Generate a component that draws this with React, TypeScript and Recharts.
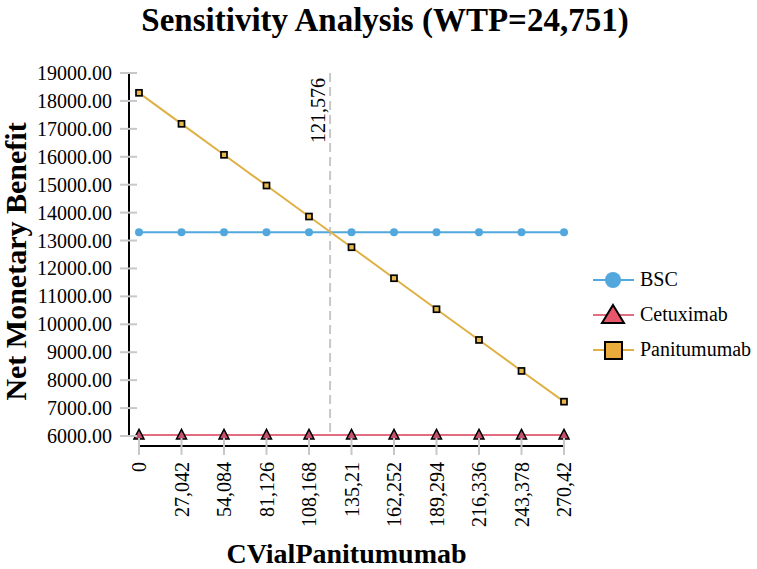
import { LineChart, Line, XAxis, YAxis, ReferenceLine } from 'recharts';

const X_VALUES = [0, 27042, 54084, 81126, 108168, 135210, 162252, 189294, 216336, 243378, 270420];
const X_LABELS = ['0', '27,042', '54,084', '81,126', '108,168', '135,21', '162,252', '189,294', '216,336', '243,378', '270,42'];
const BSC = [13300, 13300, 13300, 13300, 13300, 13300, 13300, 13300, 13300, 13300, 13300];
const CETUXIMAB = [6040, 6040, 6040, 6040, 6040, 6040, 6040, 6040, 6040, 6040, 6040];
const PANITUMUMAB = [18290, 17180, 16070, 14970, 13860, 12760, 11650, 10540, 9440, 8330, 7230];
const Y_TICKS = [6000, 7000, 8000, 9000, 10000, 11000, 12000, 13000, 14000, 15000, 16000, 17000, 18000, 19000];
const THRESHOLD = 121576;
const THRESHOLD_LABEL = '121,576';

const FONT = "'Liberation Serif', 'Times New Roman', serif";

const SERIES = [
  { key: 'bsc', name: 'BSC', line: '#52a7dc', marker: '#52a7dc', shape: 'circle' },
  { key: 'cet', name: 'Cetuximab', line: '#e26d7f', marker: '#e8566b', shape: 'triangle' },
  { key: 'pan', name: 'Panitumumab', line: '#dfb043', marker: '#e8ac3c', shape: 'square' },
];

const rows = X_VALUES.map((x, i) => ({
  x,
  bsc: BSC[i],
  cet: CETUXIMAB[i],
  pan: PANITUMUMAB[i],
}));

// tick marks cross the axis line, so draw them with the label
const YTick = (props: any) => {
  const { x, y, payload } = props;
  return (
    <g>
      <line x1={x + 8} x2={x + 25} y1={y} y2={y} stroke="#c8c8c8" strokeWidth={2} />
      <text x={x} y={y} dy={7} textAnchor="end" fontSize={20} style={{ fontFamily: FONT }} fill="#000">
        {Number(payload.value).toFixed(2)}
      </text>
    </g>
  );
};

const XTick = (props: any) => {
  const { x, y, index } = props;
  return (
    <g>
      <line x1={x} x2={x} y1={y - 24} y2={y - 7} stroke="#c8c8c8" strokeWidth={2} />
      <text
        transform={`translate(${x + 7},${y}) rotate(-90)`}
        textAnchor="end"
        fontSize={20}
        style={{ fontFamily: FONT }}
        fill="#000"
      >
        {X_LABELS[index]}
      </text>
    </g>
  );
};

const YTitle = (props: any) => {
  const { viewBox } = props;
  const cx = 26;
  const cy = viewBox.y + viewBox.height / 2 + 2;
  return (
    <text
      transform={`translate(${cx},${cy}) rotate(-90)`}
      textAnchor="middle"
      fontSize={30}
      fontWeight="bold"
      style={{ fontFamily: FONT }}
      fill="#000"
    >
      Net Monetary Benefit
    </text>
  );
};

const XTitle = (props: any) => {
  const { viewBox } = props;
  return (
    <text
      x={viewBox.x + viewBox.width / 2}
      y={563}
      textAnchor="middle"
      fontSize={28}
      fontWeight="bold"
      style={{ fontFamily: FONT }}
      fill="#000"
    >
      CVialPanitumumab
    </text>
  );
};

const RefLabel = (props: any) => {
  const { viewBox } = props;
  const x = viewBox.x - 5;
  const y = viewBox.y + 5;
  return (
    <text
      transform={`translate(${x},${y}) rotate(-90)`}
      textAnchor="end"
      fontSize={20}
      style={{ fontFamily: FONT }}
      fill="#000"
    >
      {THRESHOLD_LABEL}
    </text>
  );
};

const circleDot = (p: any) => (
  <circle key={`b-${p.index}`} cx={p.cx} cy={p.cy} r={4} fill="#52a7dc" stroke="none" />
);

const triangleDot = (p: any) => (
  <polygon
    key={`c-${p.index}`}
    points={`${p.cx},${p.cy - 5.5} ${p.cx + 5},${p.cy + 4} ${p.cx - 5},${p.cy + 4}`}
    fill="#c4506e"
    stroke="#000"
    strokeWidth={1.5}
  />
);

const squareDot = (p: any) => (
  <rect
    key={`p-${p.index}`}
    x={p.cx - 3}
    y={p.cy - 3}
    width={6}
    height={6}
    fill="#e8b84b"
    stroke="#000"
    strokeWidth={1.7}
  />
);

const DOTS: Record<string, (p: any) => any> = {
  bsc: circleDot,
  cet: triangleDot,
  pan: squareDot,
};

function LegendIcon({ shape, line, marker }: { shape: string; line: string; marker: string }) {
  return (
    <svg width={44} height={26} style={{ display: 'block' }}>
      <line x1={1} x2={42} y1={13} y2={13} stroke={line} strokeWidth={2} />
      {shape === 'circle' && <circle cx={21} cy={13} r={8} fill={marker} />}
      {shape === 'triangle' && (
        <polygon points="21,3 32,21 10,21" fill={marker} stroke="#000" strokeWidth={2} />
      )}
      {shape === 'square' && (
        <rect x={13} y={5} width={17} height={17} fill={marker} stroke="#000" strokeWidth={2} />
      )}
    </svg>
  );
}

export default function App() {
  return (
    <div
      style={{
        position: 'absolute',
        left: 0,
        top: 0,
        width: 757,
        height: 569,
        background: '#fff',
        fontFamily: FONT,
      }}
    >
      <div
        style={{
          position: 'absolute',
          left: 0,
          top: 2,
          width: 770,
          textAlign: 'center',
          fontSize: 33,
          fontWeight: 'bold',
          lineHeight: '36px',
          color: '#000',
        }}
      >
        Sensitivity Analysis (WTP=24,751)
      </div>

      <LineChart width={757} height={569} data={rows} margin={{ top: 73, right: 193, bottom: 0, left: 0 }}>
        <XAxis
          dataKey="x"
          type="number"
          domain={[0, 270420]}
          ticks={X_VALUES}
          interval={0}
          padding={{ left: 10, right: 0 }}
          height={123}
          tickSize={9}
          tickMargin={7}
          tickLine={false}
          tick={<XTick />}
          axisLine={{ stroke: '#000', strokeWidth: 2, strokeDasharray: '0 10 1000' }}
          label={<XTitle />}
        />
        <YAxis
          type="number"
          domain={[6000, 19000]}
          ticks={Y_TICKS}
          interval={0}
          padding={{ top: 0, bottom: 10 }}
          width={129}
          tickSize={9}
          tickMargin={8}
          tickLine={false}
          tick={<YTick />}
          axisLine={{ stroke: '#000', strokeWidth: 2, strokeDasharray: '364 100' }}
          label={<YTitle />}
        />
        <ReferenceLine
          segment={[
            { x: THRESHOLD, y: 19000 },
            { x: THRESHOLD, y: 6000 },
          ]}
          stroke="#c8c8c8"
          strokeWidth={2}
          strokeDasharray="9 5"
          label={<RefLabel />}
        />
        {SERIES.map((s) => (
          <Line
            key={s.key}
            dataKey={s.key}
            name={s.name}
            type="linear"
            stroke={s.line}
            strokeWidth={2}
            dot={DOTS[s.key]}
            activeDot={false}
            isAnimationActive={false}
          />
        ))}
      </LineChart>

      <div style={{ position: 'absolute', left: 592, top: 262 }}>
        {SERIES.map((s) => (
          <div key={s.key} style={{ display: 'flex', alignItems: 'center', height: 35 }}>
            <LegendIcon shape={s.shape} line={s.line} marker={s.marker} />
            <span style={{ fontSize: 20, color: '#000', marginLeft: 4 }}>{s.name}</span>
          </div>
        ))}
      </div>
    </div>
  );
}
